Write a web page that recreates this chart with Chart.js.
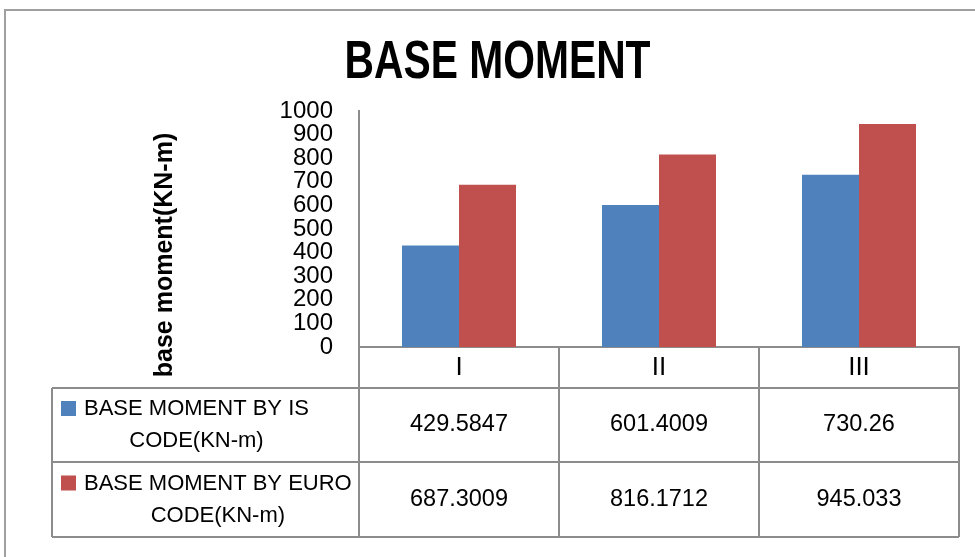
<!DOCTYPE html>
<html>
<head>
<meta charset="utf-8">
<title>BASE MOMENT</title>
<script src="https://cdn.jsdelivr.net/npm/chart.js@4.4.1/dist/chart.umd.min.js"></script>
<style>
  html, body { margin: 0; padding: 0; background: #fff; }
  canvas { display: block; }
</style>
</head>
<body>
<canvas id="chart" width="975" height="557"></canvas>
<script>
// chart values
const categories = ['I', 'II', 'III'];
const isCode = [429.5847, 601.4009, 730.26];
const euroCode = [687.3009, 816.1712, 945.033];
const seriesLines = [
  ['BASE MOMENT BY IS', 'CODE(KN-m)'],
  ['BASE MOMENT BY EURO', 'CODE(KN-m)']
];
const chartTitle = 'BASE MOMENT';
const yTitle = 'base moment(KN-m)';

const SANS = "'Liberation Sans', Arial, sans-serif";
const LINE = '#8c8c8c';

// draws the title, the data table under the plot, the frame and the y title
const tablePlugin = {
  id: 'dataTable',
  afterDraw(chart) {
    const ctx = chart.ctx;
    const x = chart.scales.x;
    const area = chart.chartArea;
    const half = (x.getPixelForValue(1) - x.getPixelForValue(0)) / 2;
    const left = 52, top = area.bottom, head = 388, row2 = 462, bottom = 537;

    ctx.save();
    // outer frame
    ctx.strokeStyle = '#a0a0a0';
    ctx.lineWidth = 2;
    ctx.beginPath();
    ctx.moveTo(5, 557); ctx.lineTo(5, 10); ctx.lineTo(975, 10);
    ctx.stroke();

    // title, condensed bold
    ctx.save();
    ctx.translate(497.5, 78);
    ctx.scale(0.77, 1);
    ctx.font = 'bold 53px ' + SANS;
    ctx.fillStyle = '#000';
    ctx.textAlign = 'center';
    ctx.textBaseline = 'alphabetic';
    ctx.fillText(chartTitle, 0, 0);
    ctx.restore();

    // table lines
    ctx.strokeStyle = LINE;
    ctx.lineWidth = 2;
    ctx.beginPath();
    [head, row2, bottom].forEach(y => { ctx.moveTo(left, y); ctx.lineTo(area.right, y); });
    ctx.moveTo(left, head); ctx.lineTo(left, bottom);
    for (let i = 0; i <= categories.length; i++) {
      const px = x.getPixelForValue(0) - half + i * 2 * half;
      ctx.moveTo(px, top); ctx.lineTo(px, bottom);
    }
    ctx.stroke();

    // series labels and values
    const rows = [[head, row2], [row2, bottom]];
    chart.data.datasets.forEach((ds, r) => {
      const cy = (rows[r][0] + rows[r][1]) / 2;
      ctx.font = '22px ' + SANS;
      ctx.textBaseline = 'middle';
      const l1 = seriesLines[r][0], l2 = seriesLines[r][1];
      const w1 = ctx.measureText(l1).width;
      const tx = 84;
      ctx.fillStyle = ds.backgroundColor;
      ctx.fillRect(61, cy - 24, 15, 15);
      ctx.fillStyle = '#000';
      ctx.textAlign = 'left';
      ctx.fillText(l1, tx, cy - 16);
      ctx.textAlign = 'center';
      ctx.fillText(l2, tx + w1 / 2, cy + 16);
      ctx.font = '23.5px ' + SANS;
      ds.data.forEach((v, i) => {
        ctx.fillText(String(v), x.getPixelForValue(i), cy);
      });
    });

    // y axis title
    ctx.translate(165, 255);
    ctx.rotate(-Math.PI / 2);
    ctx.font = 'bold 25px ' + SANS;
    ctx.fillStyle = '#000';
    ctx.textAlign = 'center';
    ctx.textBaseline = 'middle';
    ctx.fillText(yTitle, 0, 0);
    ctx.restore();
  }
};

new Chart(document.getElementById('chart'), {
  type: 'bar',
  data: {
    labels: categories,
    datasets: [
      { label: seriesLines[0].join(' '), data: isCode, backgroundColor: '#4F81BD' },
      { label: seriesLines[1].join(' '), data: euroCode, backgroundColor: '#C0504D' }
    ]
  },
  options: {
    responsive: false,
    animation: false,
    layout: { padding: { left: 0, right: 16, top: 111, bottom: 0 } },
    datasets: { bar: { categoryPercentage: 0.57, barPercentage: 1.0 } },
    plugins: {
      legend: { display: false },
      tooltip: { enabled: false },
      title: { display: false }
    },
    scales: {
      x: {
        grid: { display: false, drawTicks: false },
        border: { display: true, color: LINE, width: 2 },
        ticks: { color: '#000', font: { family: SANS, size: 26, lineHeight: 1 }, padding: 8 },
        afterFit(scale) { scale.height = 210; }
      },
      y: {
        min: 0,
        max: 1000,
        grid: { display: false, drawTicks: false },
        border: { display: true, color: LINE, width: 2 },
        ticks: {
          stepSize: 100,
          autoSkip: false,
          color: '#000',
          padding: 26,
          font: { family: SANS, size: 24, lineHeight: 1 },
          callback: v => String(v)
        },
        afterFit(scale) { scale.width = 359; }
      }
    }
  },
  plugins: [tablePlugin]
});
</script>
</body>
</html>
